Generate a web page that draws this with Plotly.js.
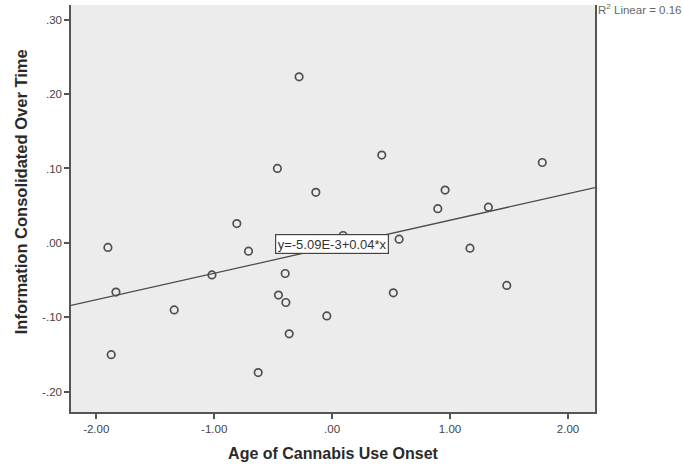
<!DOCTYPE html>
<html>
<head>
<meta charset="utf-8">
<script src="https://cdn.plot.ly/plotly-3.0.1.min.js"></script>
<style>
  html, body { margin: 0; padding: 0; background: #ffffff; }
  #chart { width: 683px; height: 464px; }
</style>
</head>
<body>
<div id="chart"></div>
<script>
// ---- Data ----
const onsetAge = [
  -0.808, -1.901, -0.709, -1.019, -1.833, -0.398, -0.455, -0.392, -1.339,
  -0.045, -0.364, -1.873, -0.627, -0.280, -0.464, -0.138, 0.421, 1.782,
  0.958, 0.896, 1.325, 0.568, 1.169, 0.519, 1.481, 0.093
];
const infoConsolidated = [
  0.026, -0.006, -0.011, -0.043, -0.066, -0.041, -0.070, -0.080, -0.090,
  -0.098, -0.122, -0.150, -0.174, 0.223, 0.100, 0.068, 0.118, 0.108,
  0.071, 0.046, 0.048, 0.005, -0.007, -0.067, -0.057, 0.010
];

// Fit line as drawn (equation label shows rounded slope)
const fitIntercept = -0.00509;
const fitSlope = 0.0356;
const fitLabel = "y=-5.09E-3+0.04*x";
const r2Label = "R<sup>2</sup> Linear = 0.16";

const xRange = [-2.214, 2.229];
const yRange = [-0.227, 0.3195];

const xTickVals = [-2, -1, 0, 1, 2];
const xTickText = ["-2.00", "-1.00", ".00", "1.00", "2.00"];
const yTickVals = [-0.2, -0.1, 0, 0.1, 0.2, 0.3];
const yTickText = ["-.20", "-.10", ".00", ".10", ".20", ".30"];

const xTitle = "Age of Cannabis Use Onset";
const yTitle = "Information Consolidated Over Time";

// ---- Build traces ----
const fitX = [xRange[0], xRange[1]];
const fitY = fitX.map(v => fitIntercept + fitSlope * v);

const traces = [
  {
    x: fitX, y: fitY, type: "scatter", mode: "lines",
    line: { color: "#4a4a4a", width: 1.3 },
    hoverinfo: "skip", showlegend: false
  },
  {
    x: onsetAge, y: infoConsolidated, type: "scatter", mode: "markers",
    marker: {
      symbol: "circle-open", size: 7.5,
      color: "#505050", line: { width: 1.7, color: "#505050" }
    },
    showlegend: false
  }
];

const fontFam = "Liberation Sans, Arial, sans-serif";

const layout = {
  width: 683, height: 464,
  margin: { l: 71, r: 88, t: 5, b: 52 },
  paper_bgcolor: "#ffffff",
  plot_bgcolor: "#ececec",
  font: { family: fontFam, color: "#333333", size: 11 },
  xaxis: {
    range: xRange, showgrid: false, zeroline: false,
    showline: true, linecolor: "#555555", linewidth: 1.5, mirror: false,
    ticks: "outside", ticklen: 5, tickwidth: 1.5, tickcolor: "#555555",
    tickvals: xTickVals, ticktext: xTickText,
    tickfont: { size: 11.5, color: "#444444" },
    title: { text: xTitle, standoff: 14,
             font: { size: 16, color: "#2a2a2a", family: fontFam, weight: "bold" } }
  },
  yaxis: {
    range: yRange, showgrid: false, zeroline: false,
    showline: true, linecolor: "#555555", linewidth: 1.5, mirror: true,
    ticks: "outside", ticklen: 5, tickwidth: 1.5, tickcolor: "#555555",
    tickvals: yTickVals, ticktext: yTickText,
    tickfont: { size: 11.5, color: "#444444" }
  },
  annotations: [
    {
      x: 0, y: 0.54, xref: "paper", yref: "paper",
      xanchor: "center", yanchor: "middle", xshift: -50,
      textangle: -90,
      text: yTitle, showarrow: false,
      font: { size: 16.5, color: "#2a2a2a", family: fontFam, weight: "bold" }
    },
    {
      x: 0, y: -0.002, xref: "x", yref: "y",
      text: fitLabel, showarrow: false,
      font: { size: 13, color: "#333333", family: fontFam },
      bgcolor: "#ffffff", bordercolor: "#444444", borderwidth: 1.2, borderpad: 1.5
    },
    {
      x: 1, y: 1, xref: "paper", yref: "paper",
      xanchor: "left", yanchor: "top", xshift: 1, yshift: 5,
      text: r2Label, showarrow: false,
      font: { size: 11.5, color: "#666666", family: fontFam }
    }
  ]
};

Plotly.newPlot("chart", traces, layout, { displayModeBar: false, responsive: false });
</script>
</body>
</html>
